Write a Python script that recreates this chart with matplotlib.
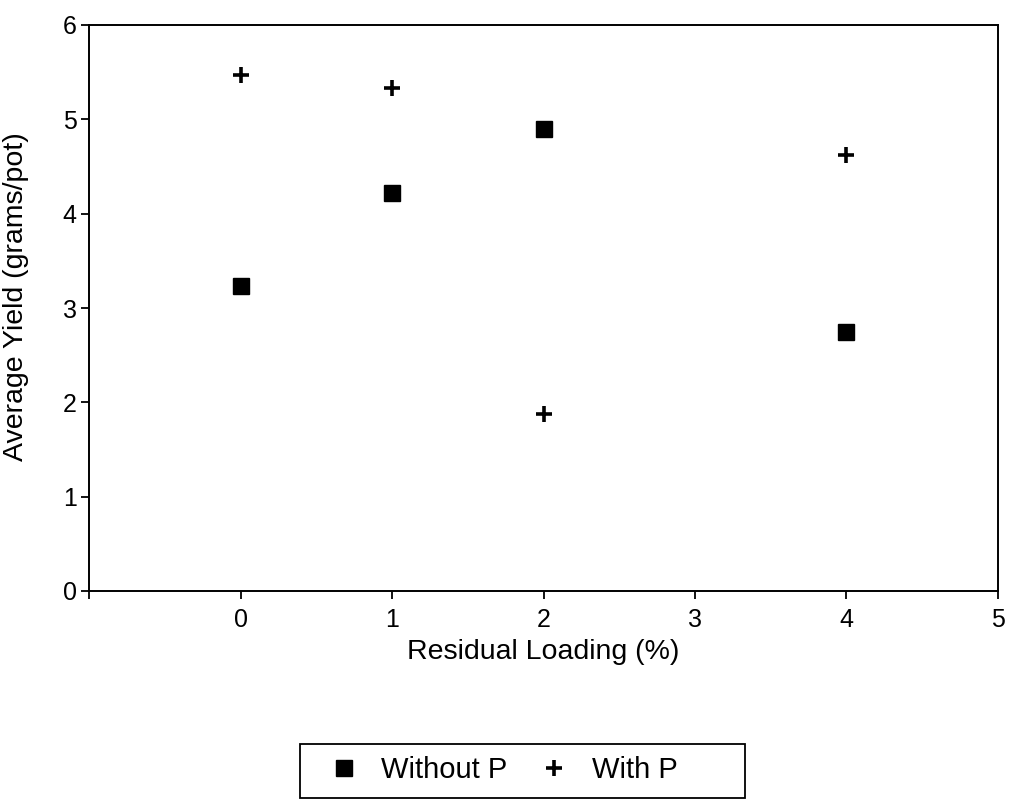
import matplotlib
matplotlib.use('Agg')
import matplotlib.pyplot as plt
from matplotlib.patches import Rectangle

plt.rcParams['font.family'] = ['Liberation Sans', 'DejaVu Sans']

# residual loading (%) and average yield (grams/pot)
loading = [0, 1, 2, 4]
yield_without_p = [3.23, 4.22, 4.90, 2.75]
yield_with_p = [5.47, 5.33, 1.88, 4.62]

x_ticks = [-1, 0, 1, 2, 3, 4, 5]
x_tick_labels = ['', '0', '1', '2', '3', '4', '5']
y_ticks = [0, 1, 2, 3, 4, 5, 6]

fig = plt.figure(figsize=(10.14, 8), dpi=100)
ax = fig.add_axes([0.0878, 0.26125, 0.8964, 0.7075])

ax.plot(loading, yield_without_p, linestyle='none', marker='s', markersize=11,
        color='black', label='Without P')
ax.plot(loading, yield_with_p, linestyle='none', marker='+', markersize=12,
        markeredgewidth=2.6, color='black', label='With P')

ax.set_xlim(-1, 5)
ax.set_ylim(0, 6)
ax.set_xticks(x_ticks)
ax.set_xticklabels(x_tick_labels)
ax.set_yticks(y_ticks)

for spine in ax.spines.values():
    spine.set_linewidth(1.4)
ax.tick_params(axis='both', direction='out', length=6, width=1.3, labelsize=18)
ax.tick_params(axis='x', pad=6)
ax.tick_params(axis='y', pad=3)

ax.set_xlabel('Residual Loading (%)', fontsize=20.5, labelpad=5)
ax.set_ylabel('Average Yield (grams/pot)', fontsize=20.5)
ax.yaxis.set_label_coords(-0.066, 0.52)

# legend below the chart; its box runs off the bottom of the page
leg = fig.legend(loc='upper left', bbox_to_anchor=(300 / 1014, 1 - 744 / 800), ncol=2,
                 fontsize=21, frameon=False, borderpad=0.42, handlelength=2.15,
                 handletextpad=0.2, columnspacing=0.55, borderaxespad=0)
fig.patches.append(Rectangle((300 / 1014, 2 / 800), 445 / 1014, 54 / 800,
                             transform=fig.transFigure, fill=False,
                             edgecolor='black', linewidth=1.3))

fig.savefig('out.png', dpi=100)
